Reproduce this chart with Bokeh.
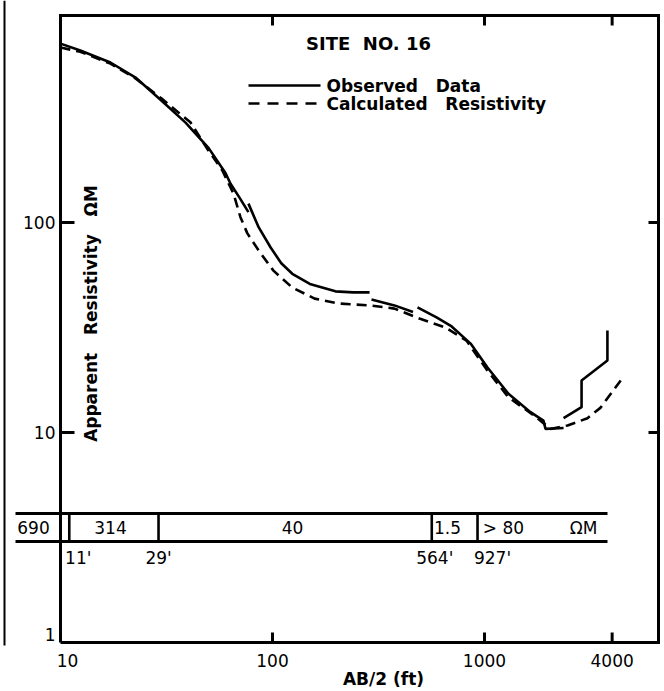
import numpy as np
from bokeh.plotting import figure
from bokeh.models import Range1d
from bokeh.embed import file_html
from bokeh.resources import INLINE
from bokeh.core.properties import value

# ---------------- data ----------------
# Observed data: field curve drawn as overlapping segments
obs_seg1_x = [10, 12.4, 17.2, 22.6, 29.9, 38.9, 50, 60, 63.4, 70, 77]
obs_seg1_y = [711, 659, 578, 490, 381, 299, 226, 172, 153, 131, 112]
obs_seg2_x = [77, 86, 98, 110, 124, 150, 198, 240, 287]
obs_seg2_y = [123, 95, 76, 64, 57, 51, 47, 46.5, 46.5]
obs_seg3_x = [293, 376, 460]
obs_seg3_y = [43, 40.3, 37.5]
obs_seg4_x = [483, 594, 700, 860, 1033, 1297, 1648, 1897, 1940, 2360]
obs_seg4_y = [39.4, 35.3, 32, 26.5, 20.4, 15.3, 12.5, 11.4, 10.4, 10.5]
obs_seg5_x = [2360, 2870, 2870, 3800, 3800]
obs_seg5_y = [11.7, 13.2, 17.7, 22, 30.6]

# Calculated resistivity (model curve)
calc_x = [10, 12.4, 17.2, 22.6, 29.9, 41, 49, 58, 65.5, 70.6, 76, 86, 101, 124,
          158, 207, 287, 376, 493, 654, 822, 1033, 1297, 1722, 2047, 2465,
          3060, 3520, 4390]
calc_y = [681, 650, 571, 485, 390, 300, 226, 177, 137, 106, 89, 73.6, 59, 49,
          43.4, 41.1, 40.3, 38.9, 34.9, 31.6, 27.4, 19.7, 14.7, 12.0, 10.4, 10.8,
          11.7, 13.1, 17.7]

# Layered model (interpretation)
layer_depths = [11, 29, 564, 927]
depth_labels = ["11'", "29'", "564'", "927'"]
layer_res_labels = ["690", "314", "40", "1.5", "> 80", "ΩM"]

# Axis ticks
x_ticks = [10, 100, 1000, 4000]
x_tick_labels = ["10", "100", "1000", "4000"]
y_ticks = [100, 10, 1]
y_tick_labels = ["100", "10", "1"]

# ---------------- layout (screen pixels -> data) ----------------
W, H = 664, 691
X10_PX, XDEC = 60, 212     # screen x of AB/2 = 10, pixels per decade
Y100_PX, YDEC = 222, 210   # screen y of rho = 100, pixels per decade


def xd(px):
    return 10 ** (1 + (px - X10_PX) / XDEC)


def yd(py):
    return 10 ** (2 - (py - Y100_PX) / YDEC)


p = figure(width=W, height=H, x_axis_type="log", y_axis_type="log",
           x_axis_location=None, y_axis_location=None,
           x_range=Range1d(xd(0), xd(W)),
           y_range=Range1d(yd(H), yd(0)),
           output_backend="svg", toolbar_location=None, min_border=0)
p.outline_line_color = None
p.grid.grid_line_color = None
p.background_fill_color = "white"
p.border_fill_color = "white"

FONT = value("DejaVu Sans")
INK = "black"

# sheet edge seen at the far left of the scanned figure
p.line([xd(4), xd(4)], [yd(0), yd(645)], line_color=INK, line_width=2)

# frame
x_left, x_right = 10, xd(658)
y_bot, y_top = 1, yd(15)
p.line([x_left, x_left, x_right, x_right, x_left],
       [y_bot, y_top, y_top, y_bot, y_bot],
       line_color=INK, line_width=3, line_join="miter")

# ticks (inward)
xt_in = x_ticks[1:]
p.ray(x=xt_in, y=[y_bot] * len(xt_in), length=10, length_units="screen",
      angle=np.pi / 2, line_color=INK, line_width=3)
p.ray(x=xt_in, y=[y_top] * len(xt_in), length=10, length_units="screen",
      angle=-np.pi / 2, line_color=INK, line_width=3)
yt_in = y_ticks[:2]
p.ray(x=[x_left] * len(yt_in), y=yt_in, length=14, length_units="screen",
      angle=0, line_color=INK, line_width=3)
p.ray(x=[x_right] * len(yt_in), y=yt_in, length=10, length_units="screen",
      angle=np.pi, line_color=INK, line_width=3)

# tick labels
p.text(x=x_ticks, y=[yd(660)] * len(x_ticks), text=x_tick_labels,
       x_offset=[7, 0, 0, 0], text_font=FONT, text_font_size="17px",
       text_align="center", text_baseline="middle", text_color=INK)
p.text(x=[xd(55)] * len(y_ticks), y=y_ticks, text=y_tick_labels,
       y_offset=[0, 0, -8], text_font=FONT, text_font_size="17px",
       text_align="right", text_baseline="middle", text_color=INK)

# axis titles
p.text(x=[xd(383)], y=[yd(678)], text=["AB/2 (ft)"], text_font=FONT,
       text_font_size="17px", text_font_style="bold", text_align="center",
       text_baseline="middle", text_color=INK)
p.text(x=[xd(90)], y=[yd(313)],
       text=["Apparent\u00a0\u00a0 Resistivity\u00a0\u00a0 ΩM"],
       angle=np.pi / 2, text_font=FONT, text_font_size="17px",
       text_font_style="bold", text_align="center", text_baseline="middle",
       text_color=INK)

# title
p.text(x=[xd(368)], y=[yd(43)], text=["SITE\u00a0 NO. 16"], text_font=FONT,
       text_font_size="18px", text_font_style="bold", text_align="center",
       text_baseline="middle", text_color=INK)

# curves
p.multi_line(xs=[obs_seg1_x, obs_seg2_x, obs_seg3_x, obs_seg4_x, obs_seg5_x],
             ys=[obs_seg1_y, obs_seg2_y, obs_seg3_y, obs_seg4_y, obs_seg5_y],
             line_color=INK, line_width=2.6)
p.line(calc_x, calc_y, line_color=INK, line_width=2.6, line_dash="10 6")

# legend (drawn)
p.segment(x0=[xd(248)], y0=[yd(85)], x1=[xd(320)], y1=[yd(85)],
          line_color=INK, line_width=2.6)
p.segment(x0=[xd(248)], y0=[yd(103)], x1=[xd(320)], y1=[yd(103)],
          line_color=INK, line_width=2.6, line_dash="11 8")
p.text(x=[xd(326), xd(326)], y=[yd(85), yd(103)],
       text=["Observed\u00a0\u00a0 Data", "Calculated\u00a0\u00a0 Resistivity"],
       text_font=FONT, text_font_size="17px", text_font_style="bold",
       text_align="left", text_baseline="middle", text_color=INK)

# layer bar
bar_x0, bar_x1 = xd(15), xd(607)
bar_top, bar_bot = yd(513), yd(541)
p.segment(x0=[bar_x0, bar_x0], y0=[bar_top, bar_bot],
          x1=[bar_x1, bar_x1], y1=[bar_top, bar_bot],
          line_color=INK, line_width=3)
p.segment(x0=layer_depths, y0=[bar_bot] * len(layer_depths),
          x1=layer_depths, y1=[bar_top] * len(layer_depths),
          line_color=INK, line_width=2.6)
res_label_px = [33, 110, 292, 447, 503, 583]
p.text(x=[xd(v) for v in res_label_px], y=[yd(527)] * len(res_label_px),
       text=layer_res_labels, text_font=FONT, text_font_size="17px",
       text_align="center", text_baseline="middle", text_color=INK)
p.text(x=layer_depths, y=[yd(557)] * len(layer_depths), text=depth_labels,
       x_offset=[9, 0, 3, 15], text_font=FONT, text_font_size="17px",
       text_align="center", text_baseline="middle", text_color=INK)

open("out.html", "w").write(file_html(p, INLINE, "Site No. 16"))
